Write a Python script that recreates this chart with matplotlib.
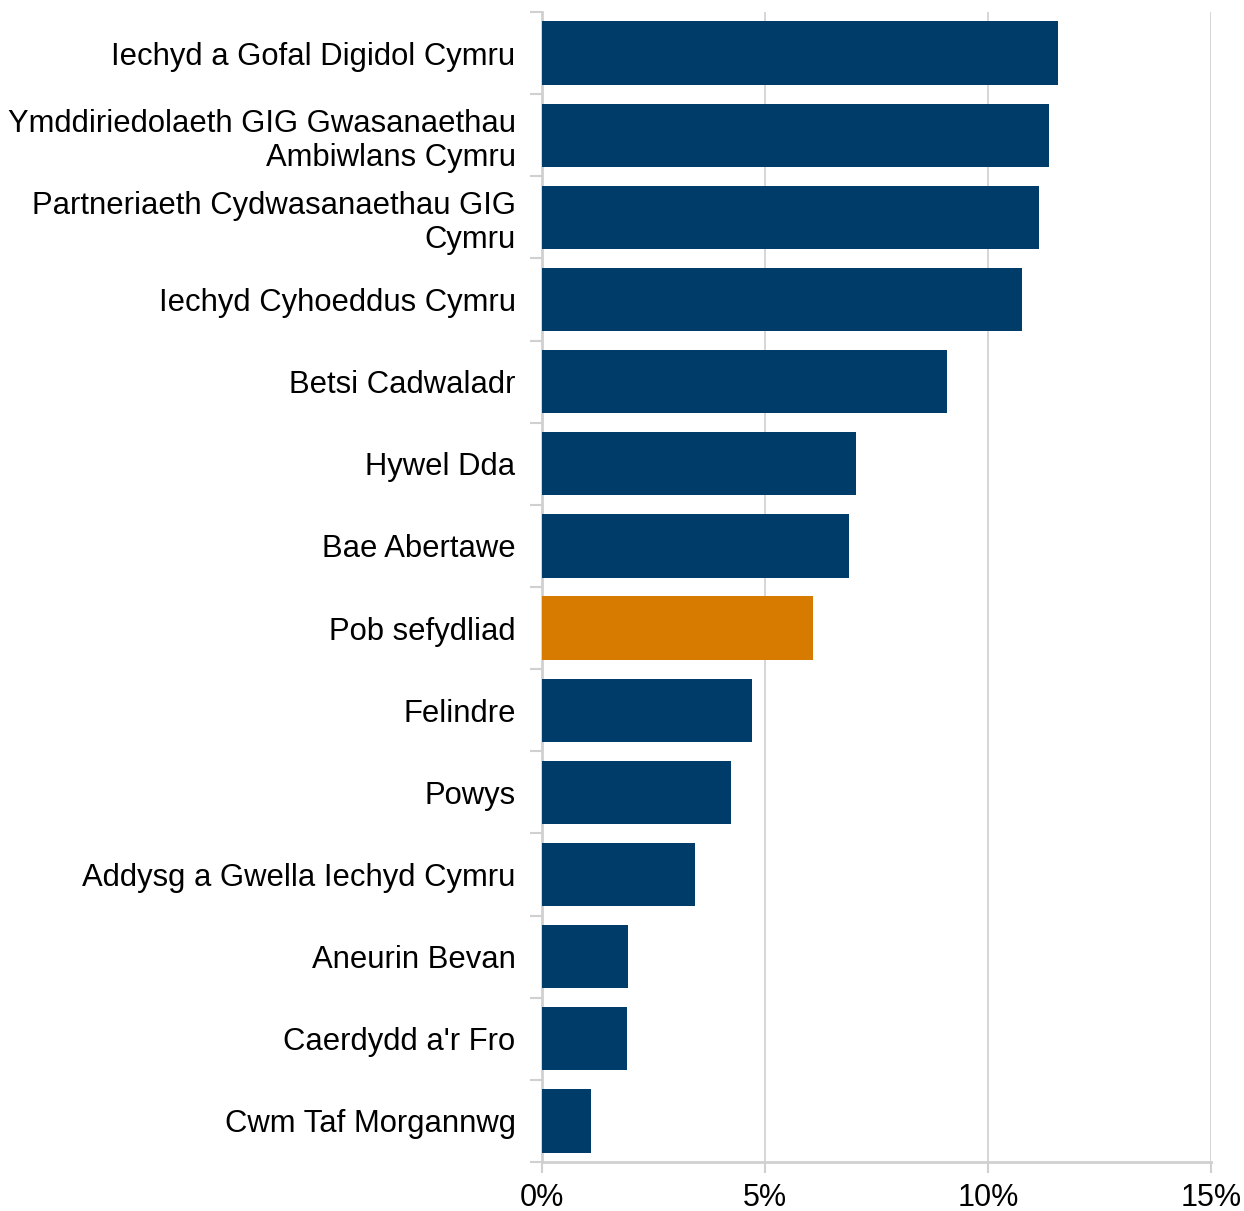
import matplotlib
matplotlib.use("Agg")
import matplotlib.pyplot as plt
import numpy as np
from matplotlib.ticker import FixedLocator, PercentFormatter

plt.rcParams['font.family'] = ['Liberation Sans', 'DejaVu Sans']

# Data #
labels = ["Iechyd a Gofal Digidol Cymru",
          "Ymddiriedolaeth GIG Gwasanaethau\nAmbiwlans Cymru",
          "Partneriaeth Cydwasanaethau GIG\nCymru",
          "Iechyd Cyhoeddus Cymru",
          "Betsi Cadwaladr",
          "Hywel Dda",
          "Bae Abertawe",
          "Pob sefydliad",
          "Felindre",
          "Powys",
          "Addysg a Gwella Iechyd Cymru",
          "Aneurin Bevan",
          "Caerdydd a'r Fro",
          "Cwm Taf Morgannwg"]
values = [11.57, 11.37, 11.14, 10.76, 9.08, 7.04, 6.88, 6.08, 4.71, 4.24, 3.43, 1.93, 1.91, 1.10]
highlight = "Pob sefydliad"

navy = "#003C69"
orange = "#D67B00"
grey = "#D0D0D0"

colors = [orange if l == highlight else navy for l in labels]
y_pos = np.arange(len(labels))

fig = plt.figure(figsize=(12.44, 12.11), dpi=100)
ax = fig.add_axes([542/1244, 1 - 1162/1211, (1211 - 542)/1244, (1162 - 12)/1211])

ax.barh(y_pos, values, height=0.77, color=colors, zorder=3)
ax.set_ylim(len(labels) - 0.5, -0.5)
ax.set_xlim(0, 15)

ax.set_yticks(y_pos)
ax.set_yticklabels(labels, fontsize=22.3, linespacing=1.17)
ax.yaxis.set_minor_locator(FixedLocator(np.arange(-0.5, len(labels), 1)))
ax.tick_params(axis='y', which='major', length=0, pad=19)
ax.tick_params(axis='y', which='minor', length=9, width=1.5, color=grey, direction='out')

ax.set_xticks([0, 5, 10, 15])
ax.xaxis.set_major_formatter(PercentFormatter(decimals=0))
ax.tick_params(axis='x', length=8, width=1.5, color=grey, labelsize=22, pad=7)
ax.grid(axis='x', color=grey, linewidth=1.2, zorder=0)

for side in ['top', 'right']:
    ax.spines[side].set_visible(False)
for side in ['left', 'bottom']:
    ax.spines[side].set_color(grey)
    ax.spines[side].set_linewidth(2)

fig.savefig("out.png", dpi=100)
